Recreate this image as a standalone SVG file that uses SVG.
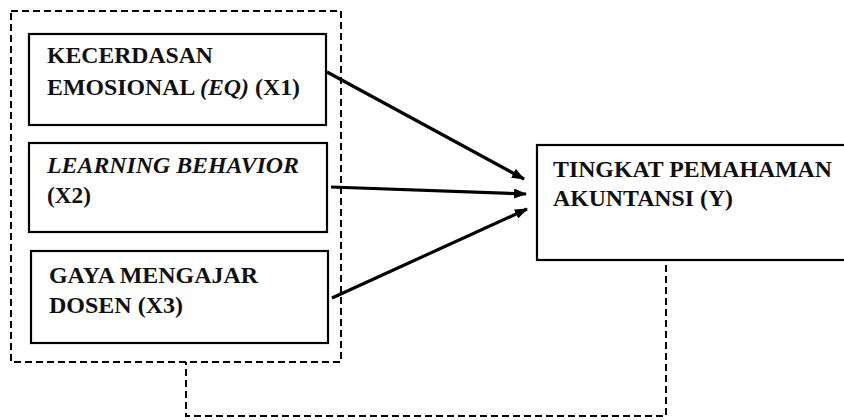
<svg xmlns="http://www.w3.org/2000/svg" width="844" height="420" viewBox="0 0 844 420">
<style>
.box{fill:#fff;stroke:#000;stroke-width:2.2}
.dash{fill:none;stroke:#000;stroke-width:2;stroke-dasharray:7,4}
.arr{stroke:#000;stroke-width:3.2;fill:none}
text{font-family:"Liberation Serif","Times New Roman",serif;font-weight:bold;font-size:22.5px;fill:#111}
.it{font-style:italic}
</style>
<defs>
<marker id="ah" markerWidth="13" markerHeight="10" refX="12" refY="5" orient="auto" markerUnits="userSpaceOnUse" viewBox="0 0 13 10">
<path d="M0,0 L13,5 L0,10 Z" fill="#000"/>
</marker>
</defs>
<g id="group-x">
<rect class="dash" x="11" y="11" width="330" height="351"/>
</g>
<g id="x1">
<rect class="box" x="29" y="34" width="297" height="91"/>
<text x="47" y="63" textLength="166" lengthAdjust="spacingAndGlyphs">KECERDASAN</text>
<text x="47" y="95" textLength="253" lengthAdjust="spacingAndGlyphs">EMOSIONAL <tspan class="it">(EQ)</tspan> (X1)</text>
</g>
<g id="x2">
<rect class="box" x="29" y="143" width="298" height="89"/>
<text x="47" y="173" class="it" textLength="252" lengthAdjust="spacingAndGlyphs">LEARNING BEHAVIOR</text>
<text x="47" y="203" textLength="44" lengthAdjust="spacingAndGlyphs">(X2)</text>
</g>
<g id="x3">
<rect class="box" x="31" y="251" width="297" height="92"/>
<text x="49" y="283" textLength="209" lengthAdjust="spacingAndGlyphs">GAYA MENGAJAR</text>
<text x="49" y="313" textLength="134" lengthAdjust="spacingAndGlyphs">DOSEN (X3)</text>
</g>
<g id="y">
<rect class="box" x="537" y="145" width="310" height="115"/>
<text x="553" y="177" textLength="279" lengthAdjust="spacingAndGlyphs">TINGKAT PEMAHAMAN</text>
<text x="553" y="206" textLength="180" lengthAdjust="spacingAndGlyphs">AKUNTANSI (Y)</text>
</g>
<g id="connectors">
<line class="arr" x1="327" y1="72" x2="524" y2="179" marker-end="url(#ah)"/>
<line class="arr" x1="331" y1="187" x2="526" y2="194" marker-end="url(#ah)"/>
<line class="arr" x1="332" y1="298" x2="527" y2="209" marker-end="url(#ah)"/>
<polyline class="dash" points="666,265 666,416 186,416 186,362"/>
</g>
</svg>
